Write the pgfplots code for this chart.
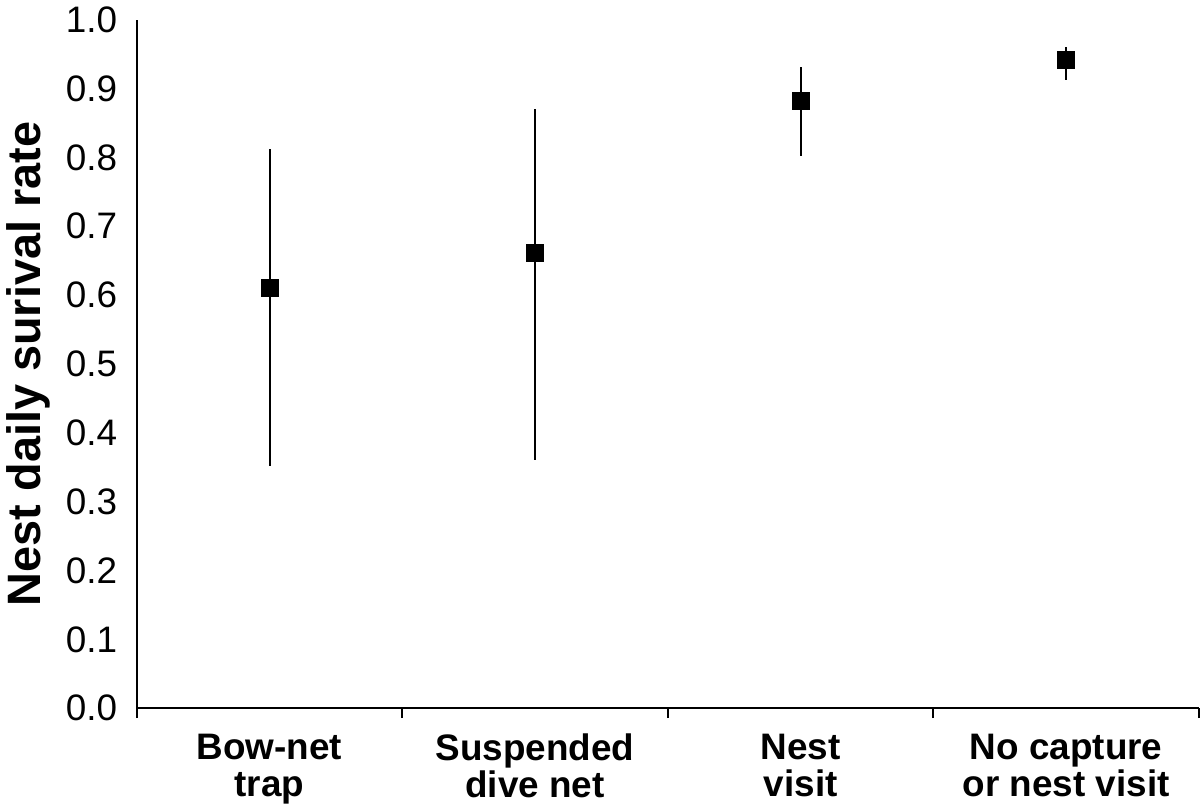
\documentclass[border=0pt]{standalone}
\usepackage{pgfplots}
\pgfplotsset{compat=1.18}
\usepackage{fontspec}
\setmainfont{Liberation Sans}
\begin{document}
\begin{tikzpicture}
\begin{axis}[
  scale only axis,
  width=533pt, height=345.5pt,
  xmin=0, xmax=4, ymin=0, ymax=1.0,
  axis lines*=left,
  axis line style={line width=1pt},
  xtick={0.5,1.5,2.5,3.5},
  xticklabels={Bow-net\\trap, Suspended\\dive net, Nest\\visit, No capture\\or nest visit},
  xticklabel style={align=center, font=\fontsize{18.5}{18.5}\selectfont\bfseries},
  major x tick style={draw=none},
  minor xtick={0,1,2,3,4},
  minor tick length=5pt,
  minor x tick style={line width=1pt, black},
  tick align=outside,
  xticklabel shift=5pt,
  ytick={0,0.1,...,1.0},
  yticklabel style={font=\fontsize{18.5}{19}\selectfont, /pgf/number format/fixed, /pgf/number format/fixed zerofill, /pgf/number format/precision=1},
  /pgf/number format/assume math mode=true,
  major y tick style={draw=none},
  yticklabel shift=2pt,
  ylabel={Nest daily surival rate},
  ylabel style={font=\fontsize{23.5}{24}\selectfont\bfseries, yshift=1pt},
  clip=false,
]
\addplot[only marks, mark=square*, mark size=4.3pt, black,
  error bars/.cd, y dir=both, y explicit, error mark=none,
  error bar style={line width=1pt, black}]
  table[x=x, y=y, y error plus=ep, y error minus=em] {
x   y      ep     em
0.5 0.611  0.201  0.259
1.5 0.661  0.210  0.301
2.5 0.882  0.049  0.080
3.5 0.942  0.019  0.030
};
\end{axis}
\end{tikzpicture}
\end{document}
